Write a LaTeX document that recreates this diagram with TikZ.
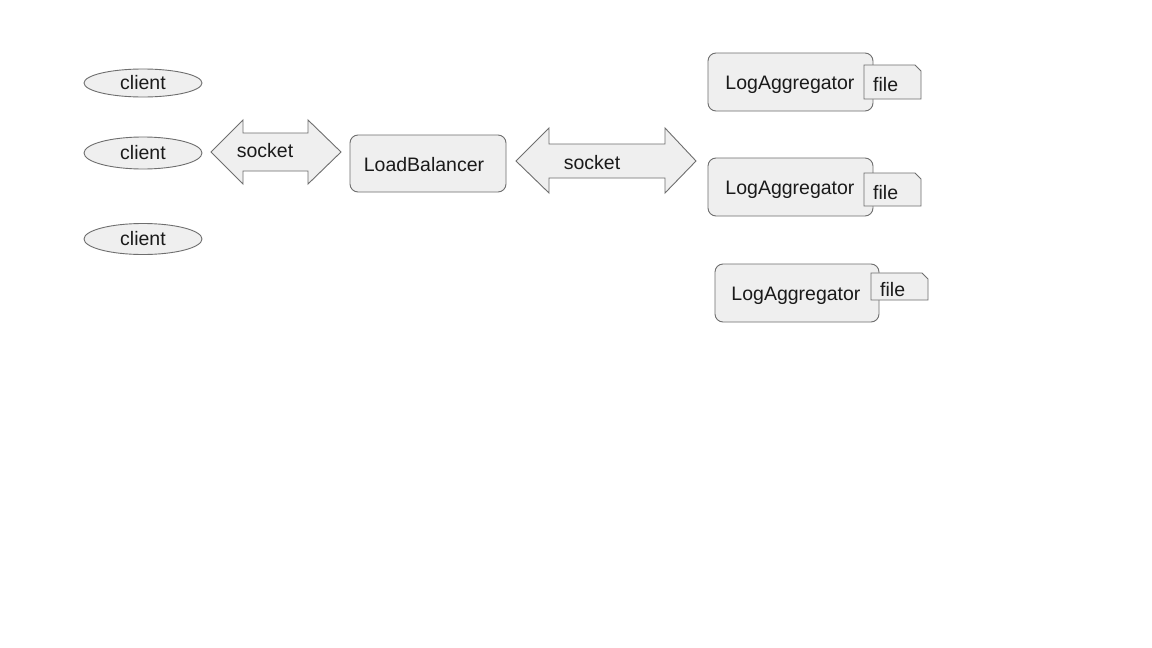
\documentclass[tikz,border=0pt]{standalone}
\usepackage{fontspec}
\setmainfont{Liberation Sans}
\usetikzlibrary{shapes.geometric}
\definecolor{boxfill}{HTML}{EFEFEF}
\definecolor{boxline}{HTML}{6E6E6E}
\definecolor{txt}{HTML}{1A1A1A}
\begin{document}
\begin{tikzpicture}[x=1pt,y=-1pt,
  every node/.style={text=txt,font=\fontsize{19.5}{23}\selectfont},
  shapebox/.style={fill=boxfill,draw=boxline,line width=0.9pt},
  roundbox/.style={shapebox,rounded corners=8pt},
  clientnode/.style={shapebox,ellipse,minimum width=118pt,inner sep=0pt},
  arrowshape/.style={shapebox,line join=miter}
]
\useasboundingbox (0,0) rectangle (1152,648);
\fill[white] (0,0) rectangle (1152,648);

% clients
\node[clientnode,minimum height=28pt] (c1) at (143,83) {client};
\node[clientnode,minimum height=32pt] (c2) at (143,153) {client};
\node[clientnode,minimum height=31pt] (c3) at (143,239) {client};

% double arrow 1
\draw[arrowshape] (211,152) -- (243,120) -- (243,133) -- (308,133) -- (308,120)
  -- (341,152) -- (308,184) -- (308,171) -- (243,171) -- (243,184) -- cycle;
\node (s1) at (265,151) {socket};

% load balancer
\draw[roundbox] (350,135) rectangle (506,192);
\node (lb) at (424,165) {LoadBalancer};

% double arrow 2
\draw[arrowshape] (516,161) -- (549,128) -- (549,144) -- (665,144) -- (665,128)
  -- (696,161) -- (665,193) -- (665,178) -- (549,178) -- (549,193) -- cycle;
\node (s2) at (592,163) {socket};

% log aggregators
\draw[roundbox] (708,53) rectangle (873,111);
\node (la1) at (790,85) {LogAggregator};
\draw[shapebox] (864,65) -- (915,65) -- (921,71) -- (921,99) -- (864,99) -- cycle;
\node[anchor=west,inner sep=0pt] (f1) at (873,85) {file};

\draw[roundbox] (708,158) rectangle (873,216);
\node (la2) at (790,190) {LogAggregator};
\draw[shapebox] (864,173) -- (915,173) -- (921,179) -- (921,206) -- (864,206) -- cycle;
\node[anchor=west,inner sep=0pt] (f2) at (873,193) {file};

\draw[roundbox] (715,264) rectangle (879,322);
\node (la3) at (796,296) {LogAggregator};
\draw[shapebox] (871,273) -- (922,273) -- (928,279) -- (928,300) -- (871,300) -- cycle;
\node[anchor=west,inner sep=0pt] (f3) at (880,290) {file};
\end{tikzpicture}
\end{document}
